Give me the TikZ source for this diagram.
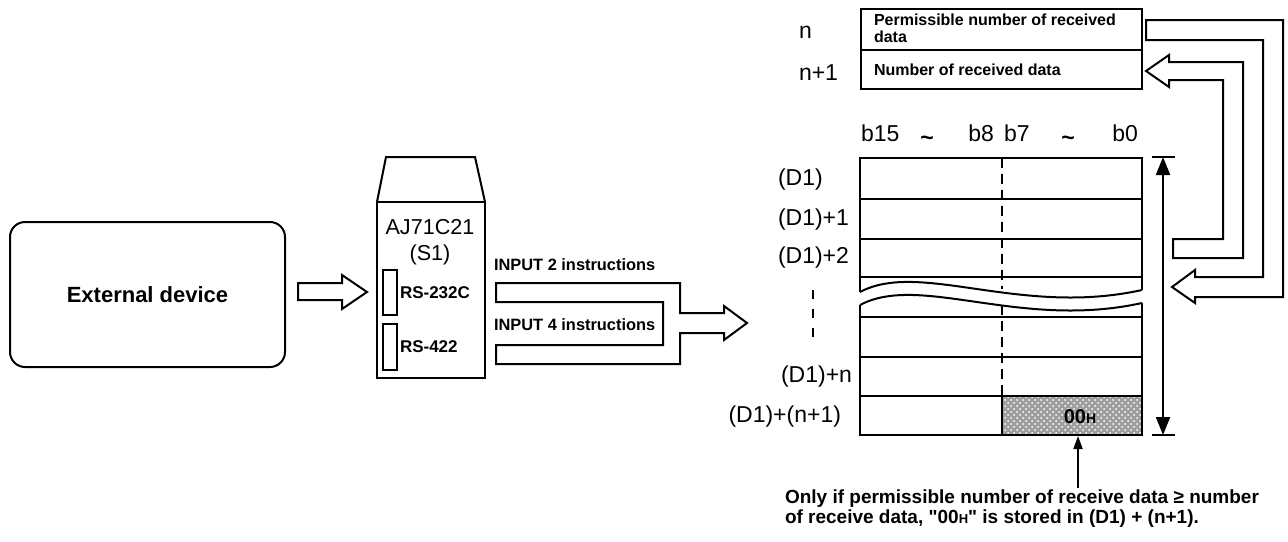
\documentclass[tikz,border=0pt]{standalone}
\usepackage{fontspec}
\setmainfont{Liberation Sans}
\usetikzlibrary{arrows.meta,patterns}
\newcommand{\straightquote}{\XeTeXglyph\numexpr\XeTeXcharglyph"22\relax}
\newcommand{\tild}{{\bfseries\raisebox{-2pt}{\char`\~}}}
\begin{document}
\begin{tikzpicture}[x=0.5pt,y=-0.5pt,line width=1pt,
  bold/.style={font=\fontsize{8.2}{9.5}\selectfont\bfseries,inner sep=0},
  lab/.style={font=\fontsize{11.5}{12}\selectfont,inner sep=0},
  box/.style={draw,inner sep=0,outer sep=0},
  tri/.style={-{Triangle[length=6.5pt,width=4.5pt]}},
  dtri/.style={{Triangle[length=9pt,width=7pt]}-{Triangle[length=9pt,width=7pt]}},
  dashv/.style={dash pattern=on 5pt off 3pt}]
\useasboundingbox (0,0) rectangle (1288,541);

% External device
\node[box,rounded corners=7.5pt,minimum width=137.5pt,minimum height=72.5pt,
  font=\fontsize{11}{12}\selectfont\bfseries] (ext) at (147.5,294.5) {External device};

% hollow arrow ext -> AJ
\draw (298,283) -- (342,283) -- (342,275) -- (367,292) -- (342,309) -- (342,300) -- (298,300) -- cycle;

% AJ71C21 unit
\node[box,minimum width=54pt,minimum height=88pt] (aj) at (431,290) {};
\draw (aj.north west) -- (386,157) -- (475,157) -- (aj.north east);
\node[lab,font=\fontsize{10.8}{12}\selectfont] (ajname) at (430,227) {AJ71C21};
\node[lab,font=\fontsize{10.8}{12}\selectfont] (s1) at (430,255) {(S1)};
\node[box,minimum width=7pt,minimum height=22.5pt] (p1) at (389.5,292.5) {};
\node[box,minimum width=7pt,minimum height=23pt] (p2) at (389.5,347) {};
\node[bold,font=\fontsize{8.5}{9}\selectfont\bfseries,anchor=west] (rs1) at (399,293) {RS-232C};
\node[bold,font=\fontsize{8.5}{9}\selectfont\bfseries,anchor=west] (rs2) at (399,347) {RS-422};

% INPUT labels
\node[bold,anchor=west] (in2) at (493,265) {INPUT 2 instructions};
\node[bold,anchor=west] (in4) at (493,325) {INPUT 4 instructions};

% merging hollow arrow
\draw (496,283) -- (680,283) -- (680,313) -- (724,313) -- (724,306) -- (747,323)
  -- (724,340) -- (724,333) -- (680,333) -- (680,364) -- (496,364) -- (496,345)
  -- (663,345) -- (663,302) -- (496,302) -- cycle;

% top table
\node[box,minimum width=140.5pt,minimum height=20.5pt] (perm) at (1001.5,29.5) {};
\node[box,minimum width=140.5pt,minimum height=19.5pt] (recv) at (1001.5,69.5) {};
\node[bold,anchor=west,align=left,font=\fontsize{8}{8.5}\selectfont\bfseries] at (873,28.5) {Permissible number of received\\data};
\node[bold,anchor=west,font=\fontsize{8}{8.5}\selectfont\bfseries] at (873,70) {Number of received data};
\node[lab,anchor=west] (nlab) at (798,32) {n};
\node[lab,anchor=west] (n1lab) at (798,73) {n+1};

% bit labels
\node[lab,anchor=base west] (b15) at (860,141) {b15};
\node[lab,anchor=base] at (927,141) {\tild};
\node[lab,anchor=base east] at (995,141) {b8};
\node[lab,anchor=base west] at (1003,141) {b7};
\node[lab,anchor=base] at (1068,141) {\tild};
\node[lab,anchor=base east] at (1139,141) {b0};

% memory grid, upper part
\coordinate (gtl) at (860,158);
\coordinate (gtr) at (1142,158);
\draw (860,292) -- (gtl) -- (gtr) -- (1142,290);
\draw (860,292) .. controls (920,260) and (1020,317) .. (1142,290);
\draw (860,199) -- (1142,199);
\draw (860,239) -- (1142,239);
\draw (860,277) -- (1142,277);
% lower part
\coordinate (gbl) at (860,435);
\coordinate (gbr) at (1142,435);
\fill[black!38] (1002,396) rectangle (gbr);
\fill[pattern=crosshatch dots,pattern color=white] (1002,396) rectangle (gbr);
\draw (860,305) .. controls (920,273) and (1020,330) .. (1142,303);
\draw (1142,303) -- (gbr) -- (gbl) -- (860,305);
\draw (860,317) -- (1142,317);
\draw (860,357) -- (1142,357);
\draw (860,396) -- (1142,396);
\draw[dashv] (1002,158) -- (1002,289);
\draw[dashv] (1002,305) -- (1002,396);
\draw (1002,396) -- (1002,435);
\node[lab,font=\fontsize{10}{11}\selectfont\bfseries] (ooh) at (1080,417) {00{\fontsize{7}{8}\selectfont H}};

% row labels
\node[lab,anchor=west] at (777,180) {(D1)};
\node[lab,anchor=west] at (777,220) {(D1)+1};
\node[lab,anchor=west] at (777,258) {(D1)+2};
\draw[dash pattern=on 4.5pt off 5pt] (813,290) -- (813,344);
\node[lab,anchor=east] at (853,377) {(D1)+n};
\node[lab,anchor=east] at (842,417) {(D1)+(n+1)};

% extent arrow
\coordinate (et) at (1163,157);
\coordinate (eb) at (1163,435);
\draw (1152,157) -- (1175,157);
\draw (1152,435) -- (1175,435);
\draw[dtri] (et) -- (eb);

% outer pipe: permissible -> D1+2 region
\draw (1146,20) -- (1283,20) -- (1283,297) -- (1195,297) -- (1195,303) -- (1172,287)
  -- (1195,270) -- (1195,277) -- (1263,277) -- (1263,40) -- (1146,40) -- cycle;
% inner pipe: -> number of received data
\draw (1146,71) -- (1169,55) -- (1169,62) -- (1243,62) -- (1243,258) -- (1173,258)
  -- (1173,239) -- (1223,239) -- (1223,80) -- (1169,80) -- (1169,87) -- cycle;

% note
\node[bold,anchor=north west,align=left,font=\fontsize{9.5}{10}\selectfont\bfseries] (note) at (784,489)
  {Only if permissible number of receive data ≥ number\\of receive data, \straightquote00{\fontsize{6.5}{7}\selectfont H}\straightquote\ is stored in (D1) + (n+1).};
\coordinate (nt) at (1078,488);
\draw[tri] (nt) -- (1078,436);
\end{tikzpicture}
\end{document}
